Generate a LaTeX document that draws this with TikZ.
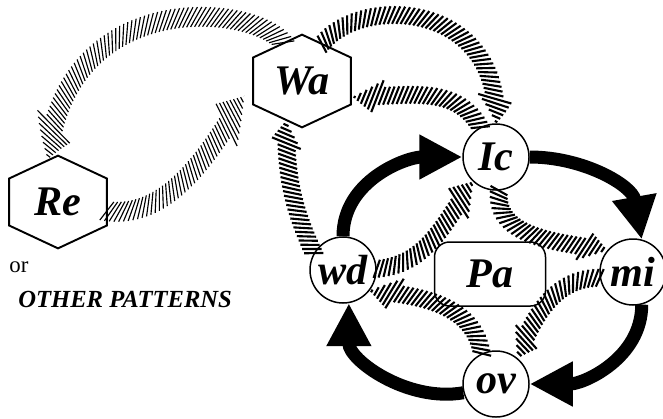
\documentclass[tikz,border=0pt]{standalone}
\usepackage{fontspec}
\setmainfont{Liberation Serif}
\usetikzlibrary{arrows.meta,decorations.markings,calc}

\begin{document}
\begin{tikzpicture}[
  every node/.style = {font=\bfseries\itshape\fontsize{24}{28}\selectfont},
  state/.style   = {circle, draw, line width=0.85pt, fill=white,
                    minimum size=1.32cm, inner sep=0pt},
  hexbox/.style  = {minimum width=1.94cm, minimum height=1.84cm, inner sep=0pt},
  hexline/.style = {draw, line width=1.1pt, line join=miter},
  panel/.style   = {draw, rounded corners=0.3cm, line width=0.85pt, fill=white,
                    minimum width=2.22cm, minimum height=1.28cm},
  bigarrow/.style = {line width=0.26cm, -{Triangle[length=0.86cm,width=0.84cm]}},
  hatched/.style = {postaction=decorate,
    decoration={markings,
      mark=between positions 0 and 1 step \hstep with {
        \pgfmathsetmacro\hrest{\pgfdecoratedpathlength-\pgfkeysvalueof{/pgf/decoration/mark info/distance from start}}
        \pgfmathsetmacro\hhalf{\hrest>\hlen ? \hband : \hhead*\hrest/\hlen}
        \pgfmathsetmacro\hsx{\hslant*\hhalf}
        \draw[line width=\hline, line cap=butt] (-\hsx pt,-\hhalf pt) -- (\hsx pt,\hhalf pt);
      }}},
  darkhatch/.style  = {/utils/exec={\def\hstep{2.6pt}\def\hline{1.2pt}%
                       \def\hband{5.0}\def\hhead{9.5}\def\hlen{15}\def\hslant{0.45}}, hatched},
  lighthatch/.style = {/utils/exec={\def\hstep{2.4pt}\def\hline{0.65pt}%
                       \def\hband{5.6}\def\hhead{12}\def\hlen{20}\def\hslant{0.6}}, hatched},
]
\useasboundingbox (0,0) rectangle (13.26,8.36);

%% -- hexagons ---------------------------------------------------------------
\node[hexbox] (wa) at (6.04,6.74) {Wa};
\node[hexbox] (re) at (1.16,4.32) {Re};
\foreach \h in {wa,re}
  \draw[hexline] (\h.north) -- ($(\h.east)+(0,0.47)$) -- ($(\h.east)+(0,-0.47)$)
    -- (\h.south) -- ($(\h.west)+(0,-0.47)$) -- ($(\h.west)+(0,0.47)$) -- cycle;

%% -- phase circles and centre -----------------------------------------------
\node[state] (ic) at (9.92,5.22) {Ic};
\node[state] (wd) at (6.86,2.96) {wd};
\node[state] (mi) at (12.66,2.92) {mi};
\node[state] (ov) at (9.92,0.68) {ov};
\node[panel] (pa) at (9.80,2.88) {Pa};

%% -- side text ---------------------------------------------------------------
\node[anchor=west, inner sep=0pt, font=\fontsize{13}{15}\selectfont] (ortxt) at (0.18,3.02) {or};
\node[anchor=west, inner sep=0pt, font=\bfseries\itshape\fontsize{14}{16}\selectfont]
  (other) at (0.36,2.38) {OTHER PATTERNS};

%% -- outer black cycle ---------------------------------------------------------
\draw[bigarrow] (wd.north) to[out=90,in=180] (ic.west);
\draw[bigarrow] (ic.east)  to[out=0,in=100]  (mi.75);
\draw[bigarrow] (mi.-75)   to[out=-90,in=0]  (ov.east);
\draw[bigarrow] (ov.195)   to[out=190,in=-90] (wd.-80);

%% -- inner hatched cycle round Pa -------------------------------------------
\path[darkhatch] (wd.2)   to[out=5,in=-125]  (ic.227);
\path[darkhatch] (ic.-85) to[out=-95,in=170] (mi.140);
\path[darkhatch] (mi.190) to[out=180,in=70]  (ov.50);
\path[darkhatch] (ov.115) to[out=100,in=-5]  (wd.-38);

%% -- links to Wa ----------------------------------------------------------------
\path[darkhatch] (wd.150) to[out=115,in=-90] ($(wa.south)+(-0.32,0.13)$);
\path[darkhatch] (ic.118) to[out=120,in=0]   ($(wa.east)+(0.04,-0.32)$);
\path[darkhatch] ($(wa.north)+(0.4,-0.19)$) .. controls (7.2,8.46) and (10.0,8.36) .. (ic.north);

%% -- Wa and Re ----------------------------------------------------------------
\path[lighthatch] ($(wa.north)+(-0.38,-0.16)$) .. controls (5.0,8.3) and (1.3,8.6) .. ($(re.north)+(-0.2,-0.06)$);
\path[lighthatch] ($(re.east)+(0,-0.18)$) .. controls (3.3,4.0) and (4.1,5.1) .. ($(wa.west)+(-0.18,-0.3)$);

\end{tikzpicture}
\end{document}
